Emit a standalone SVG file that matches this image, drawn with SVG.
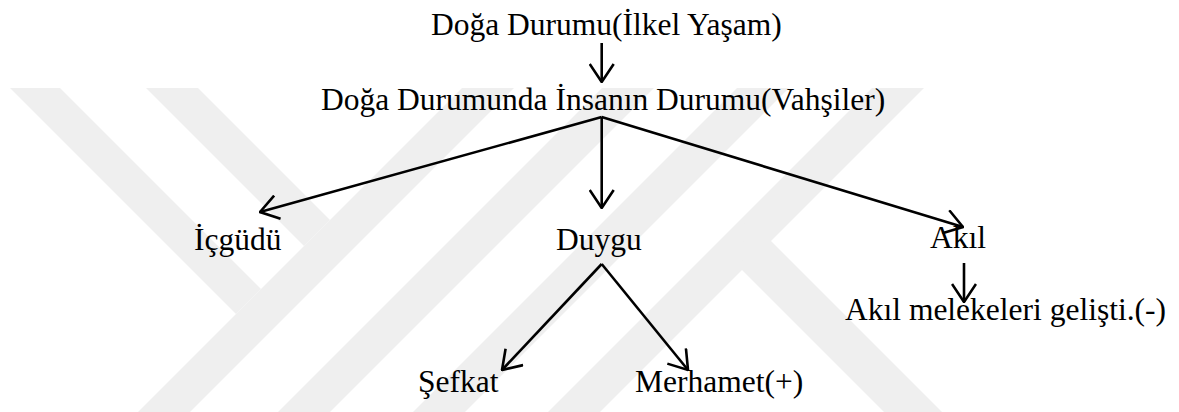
<svg xmlns="http://www.w3.org/2000/svg" width="1179" height="412" viewBox="0 0 1179 412">
<style>
.wm{fill:#efefef;stroke:none}
.lbl{font-family:"Liberation Serif","Times New Roman",serif;font-size:31.5px;fill:#000}
.edge{stroke:#000;stroke-width:2.6;fill:none;marker-end:url(#arr)}
</style>
<defs>
<marker id="arr" viewBox="0 0 20 26" refX="19" refY="13" markerWidth="20" markerHeight="26" markerUnits="userSpaceOnUse" orient="auto">
<path d="M1,1 L19,13 L1,25" fill="none" stroke="#000" stroke-width="2.6"/>
</marker>
</defs>
<rect width="1179" height="412" fill="#fff"/>
<g id="watermark">
<polygon class="wm" points="10,88 60,88 261,289 236,314"/>
<polygon class="wm" points="146,88 198,88 330,220 304,246"/>
<polygon class="wm" points="462,88 514,88 190,412 138,412"/>
<polygon class="wm" points="602,88 654,88 330,412 278,412"/>
<polygon class="wm" points="737,88 789,88 465,412 413,412"/>
<polygon class="wm" points="872,88 924,88 600,412 548,412"/>
<polygon class="wm" points="745,215 942,412 884,412 742,270"/>
</g>
<g id="connectors">
<line class="edge" x1="601.7" y1="43" x2="601.7" y2="82"/>
<line class="edge" x1="601.7" y1="117" x2="260" y2="212"/>
<line class="edge" x1="601.7" y1="117" x2="601.7" y2="208"/>
<line class="edge" x1="601.7" y1="117" x2="963" y2="227"/>
<line class="edge" x1="964" y1="263" x2="964" y2="302"/>
<line class="edge" x1="601.7" y1="264" x2="502" y2="370"/>
<line class="edge" x1="601.7" y1="264" x2="688" y2="370"/>
</g>
<g id="n-doga"><text class="lbl" x="431" y="35">Doğa Durumu(İlkel Yaşam)</text></g>
<g id="n-insan"><text class="lbl" x="321" y="110">Doğa Durumunda İnsanın Durumu(Vahşiler)</text></g>
<g id="n-icgudu"><text class="lbl" x="194" y="250">İçgüdü</text></g>
<g id="n-duygu"><text class="lbl" x="556" y="250">Duygu</text></g>
<g id="n-akil"><text class="lbl" x="930" y="248">Akıl</text></g>
<g id="n-meleke"><text class="lbl" x="845" y="320">Akıl melekeleri gelişti.(-)</text></g>
<g id="n-sefkat"><text class="lbl" x="418" y="392">Şefkat</text></g>
<g id="n-merhamet"><text class="lbl" x="635" y="392">Merhamet(+)</text></g>
</svg>
